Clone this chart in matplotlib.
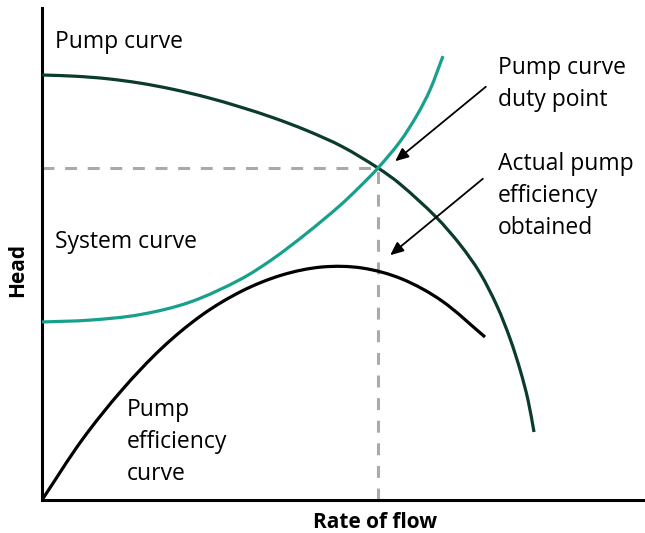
import matplotlib
matplotlib.use("Agg")
import matplotlib.pyplot as plt
from matplotlib.path import Path
from matplotlib.patches import PathPatch

# Data (arbitrary units)
pump_x = [0, 33, 65, 98, 131, 165, 198, 232, 265, 300, 336, 358, 394, 418, 438, 455, 468, 478, 486, 492]
pump_y = [425, 423.8, 421.3, 416.9, 410.7, 402.6, 393.1, 382, 369.4, 353.5, 332, 316, 283, 255.5, 227, 194, 161.5, 130.5, 100, 68]

system_x = [0, 48, 98, 148, 198, 231, 265, 298, 318, 336, 358, 375, 388, 401]
system_y = [178, 179.9, 185.4, 197.9, 220.4, 241.2, 267, 294.5, 313.5, 332, 358.4, 384.8, 410.1, 443.9]

eff_x = [0, 40, 80, 120, 160, 200, 240, 280, 320, 360, 400, 443]
eff_y = [0, 60, 110, 152, 185, 209, 225, 233, 232, 221, 199, 163]

duty_x = 336
duty_y = 332


def smooth_curve(ax, xs, ys, **kw):
    """Draw a smooth curve through the given points (chord-scaled Hermite as Bezier)."""
    pts = list(zip(xs, ys))
    n = len(pts)
    d = [((pts[i + 1][0] - pts[i][0]) ** 2 + (pts[i + 1][1] - pts[i][1]) ** 2) ** 0.5 for i in range(n - 1)]
    tan = []
    for i in range(n):
        if i == 0:
            t = ((pts[1][0] - pts[0][0]) / d[0], (pts[1][1] - pts[0][1]) / d[0])
        elif i == n - 1:
            t = ((pts[-1][0] - pts[-2][0]) / d[-1], (pts[-1][1] - pts[-2][1]) / d[-1])
        else:
            s = d[i - 1] + d[i]
            t = ((pts[i + 1][0] - pts[i - 1][0]) / s, (pts[i + 1][1] - pts[i - 1][1]) / s)
        tan.append(t)
    verts = [pts[0]]
    codes = [Path.MOVETO]
    for i in range(n - 1):
        p1, p2 = pts[i], pts[i + 1]
        h = d[i] / 3
        c1 = (p1[0] + tan[i][0] * h, p1[1] + tan[i][1] * h)
        c2 = (p2[0] - tan[i + 1][0] * h, p2[1] - tan[i + 1][1] * h)
        verts += [c1, c2, p2]
        codes += [Path.CURVE4] * 3
    patch = PathPatch(Path(verts, codes), fill=False, transform=ax.transData, **kw)
    ax.add_patch(patch)


fig = plt.figure(figsize=(6.45, 5.33), dpi=100)
ax = fig.add_axes([42/645, 33/533, 603/645, 492/533])
ax.set_xlim(0, 603)
ax.set_ylim(0, 492)

font = "Open Sans"
fs = 16.5

ax.plot([0, duty_x], [duty_y, duty_y], color="#aaaaaa", lw=2.2, dashes=(3.9, 3.5), zorder=1)
ax.plot([duty_x, duty_x], [0, duty_y], color="#aaaaaa", lw=2.2, dashes=(3.9, 3.5), zorder=1)

smooth_curve(ax, pump_x, pump_y, edgecolor="#0b3b2c", lw=2.3, capstyle="butt", zorder=3)
smooth_curve(ax, system_x, system_y, edgecolor="#17a08b", lw=2.3, capstyle="butt", zorder=3)
smooth_curve(ax, eff_x, eff_y, edgecolor="black", lw=2.3, capstyle="butt", zorder=3)

for s in ["top", "right"]:
    ax.spines[s].set_visible(False)
for s in ["left", "bottom"]:
    ax.spines[s].set_linewidth(2.2)
    ax.spines[s].set_color("black")
ax.set_xticks([])
ax.set_yticks([])

ax.text(13, 458, "Pump curve", fontsize=fs, family=font, va="center", ha="left")
ax.text(13, 258, "System curve", fontsize=fs, family=font, va="center", ha="left")
ax.text(85, 58, "Pump\nefficiency\ncurve", fontsize=fs, family=font, va="center", ha="left", linespacing=1.42)
ax.text(456, 416, "Pump curve\nduty point", fontsize=fs, family=font, va="center", ha="left", linespacing=1.42)
ax.text(456, 304, "Actual pump\nefficiency\nobtained", fontsize=fs, family=font, va="center", ha="left", linespacing=1.42)

ax.annotate("", xy=(351, 337), xytext=(446, 415),
            arrowprops=dict(arrowstyle="-|>,head_length=0.8,head_width=0.35", color="black", lw=1.3))
ax.annotate("", xy=(346, 243), xytext=(443, 323),
            arrowprops=dict(arrowstyle="-|>,head_length=0.8,head_width=0.35", color="black", lw=1.3))

fig.text(375/645, 1 - 522/533, "Rate of flow", fontsize=15, family=font, fontweight="bold", ha="center", va="center")
fig.text(18/645, 1 - 270/533, "Head", fontsize=15, family=font, fontweight="bold", ha="center", va="center", rotation=90)

fig.savefig("out.png", dpi=100)
